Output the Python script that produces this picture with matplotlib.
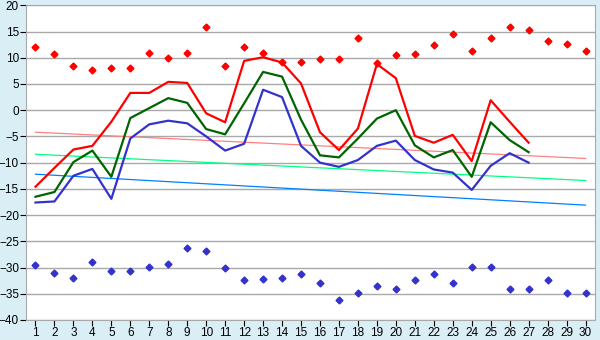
import matplotlib
matplotlib.use("Agg")
import matplotlib.pyplot as plt

plt.rcParams["font.family"] = ["Liberation Sans", "DejaVu Sans"]

days = list(range(1, 31))
line_days = list(range(1, 28))

# daily extremes (diamonds)
max_temp = [12.0, 10.8, 8.5, 7.6, 8.1, 8.1, 11.0, 10.0, 11.0, 15.8,
            8.5, 12.0, 11.0, 9.1, 9.1, 9.7, 9.7, 13.7, 9.0, 10.5,
            10.8, 12.4, 14.5, 11.2, 13.7, 15.8, 15.2, 13.1, 12.6, 11.2]
min_temp = [-29.6, -31.1, -32.0, -29.0, -30.7, -30.7, -29.8, -29.4, -26.3, -26.9,
            -30.0, -32.4, -32.2, -32.0, -31.3, -33.0, -36.1, -34.9, -33.6, -34.1,
            -32.4, -31.3, -33.0, -29.8, -29.8, -34.1, -34.1, -32.4, -34.9, -34.9]

# measured series
red_vals = [-14.6, -11.0, -7.5, -6.8, -2.2, 3.3, 3.3, 5.4, 5.2, -0.6,
            -2.3, 9.4, 10.1, 9.1, 5.1, -4.2, -7.6, -3.5, 8.8, 6.1,
            -4.9, -6.2, -4.7, -9.7, 1.9, -2.2, -6.2]
green_vals = [-16.5, -15.6, -9.9, -7.7, -12.7, -1.5, 0.4, 2.3, 1.4, -3.6,
              -4.6, 1.3, 7.3, 6.4, -1.8, -8.6, -9.0, -5.4, -1.6, 0.0,
              -6.7, -9.0, -7.6, -12.7, -2.3, -5.7, -8.0]
blue_vals = [-17.6, -17.4, -12.5, -11.2, -16.9, -5.4, -2.7, -2.0, -2.5, -5.0,
             -7.7, -6.4, 3.9, 2.5, -6.8, -10.0, -10.8, -9.5, -6.8, -5.8,
             -9.5, -11.3, -11.9, -15.2, -10.6, -8.2, -10.0]

# trend lines: value at day 1 and day 30
trend_days = [1, 30]
red_trend = [-4.2, -9.2]
green_trend = [-8.4, -13.4]
blue_trend = [-12.2, -18.1]

yticks = list(range(-40, 25, 5))

fig = plt.figure(figsize=(6, 3.4), dpi=100, facecolor="#daeef5")
ax = fig.add_axes([26 / 600, 20 / 340, 569 / 600, 314.7 / 340])
ax.set_facecolor("white")

ax.plot(trend_days, red_trend, color="#ff8080", lw=0.9, zorder=2)
ax.plot(trend_days, green_trend, color="#00ff80", lw=0.9, zorder=2)
ax.plot(trend_days, blue_trend, color="#0080ff", lw=0.9, zorder=2)

ax.plot(line_days, red_vals, color="#ff0000", lw=1.6, zorder=3)
ax.plot(line_days, green_vals, color="#006400", lw=1.6, zorder=3)
ax.plot(line_days, blue_vals, color="#3333cc", lw=1.6, zorder=3)

ax.plot(days, max_temp, ls="none", marker="D", ms=3.5, color="#ff0000", zorder=4)
ax.plot(days, min_temp, ls="none", marker="D", ms=3.5, color="#3333cc", zorder=4)

ax.set_xlim(0.5, 30.5)
ax.set_ylim(-40, 20)
ax.set_xticks(days)
ax.set_yticks(yticks)
ax.set_yticklabels([str(v).replace("-", "\u2212") for v in yticks])
ax.yaxis.grid(True, color="#a9a9a9", lw=1)
ax.set_axisbelow(True)
ax.tick_params(axis="both", labelsize=8.5, length=4, color="black", pad=1)
for s in ax.spines.values():
    s.set_color("#a9a9a9")

fig.savefig("out.png", dpi=100, facecolor=fig.get_facecolor())
